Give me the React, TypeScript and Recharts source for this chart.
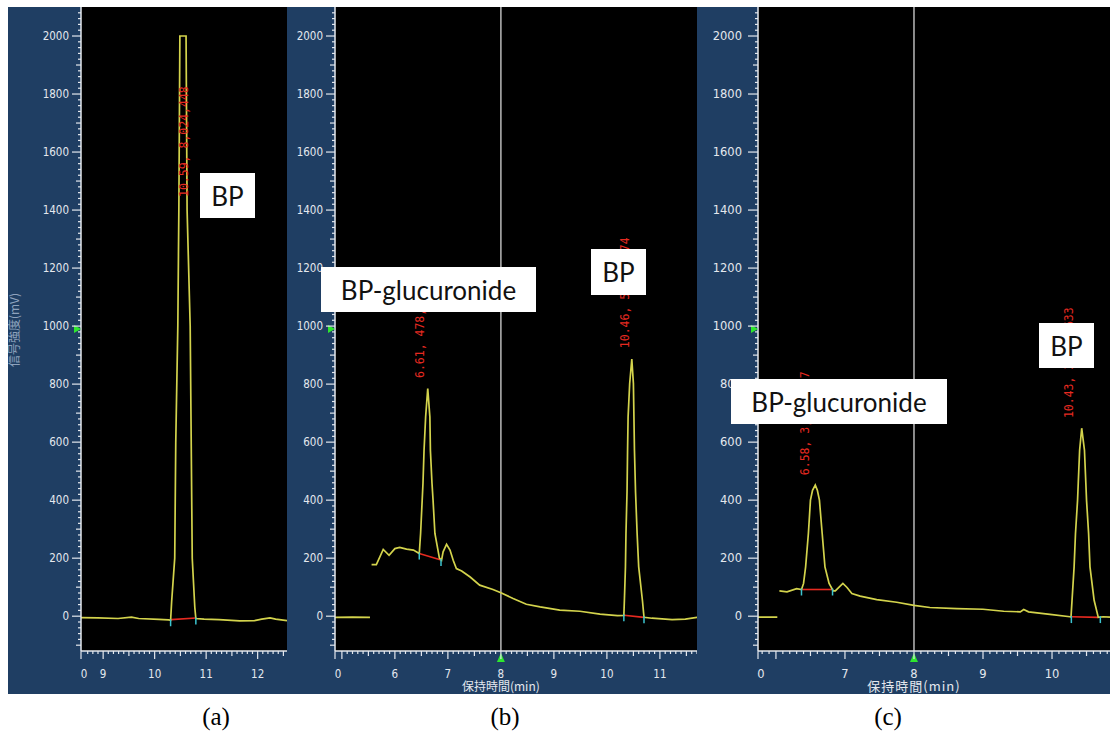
import { ComposedChart, Line, XAxis, YAxis, CartesianGrid, ReferenceLine, ReferenceDot } from 'recharts'

type Pt = [number, number | null]

const BLUE = '#1f3e63'
const AXIS = '#e4e8ee'
const TRACE = '#d3d34c'
const RED = '#e62a20'
const CYAN = '#3cc4cf'
const GREEN = '#2ee62e'

// signal axis (mV), shared by all three runs
const Y_DOMAIN: [number, number] = [-120, 2100]
const Y_TICKS = Array.from({ length: 110 }, (_, i) => -100 + i * 20)
const Y_MARK = 990
const CURSOR_MIN = 8

// retention time windows (min)
const X_DOMAIN_A: [number, number] = [8.57, 12.57]
const X_DOMAIN_B: [number, number] = [4.87, 11.7]
const X_DOMAIN_C: [number, number] = [5.74, 10.84]

// (a) BP standard
const TRACE_A: Pt[] = [
  [8.57, -5], [8.9, -6], [9.29, -8], [9.55, -3], [9.69, -8], [10.08, -11], [10.27, -13], [10.31, -14],
  [10.33, 50], [10.39, 200], [10.41, 600], [10.45, 1000], [10.47, 1400], [10.49, 2000], [10.61, 2000],
  [10.63, 1400], [10.69, 1000], [10.71, 600], [10.73, 200], [10.78, 30], [10.8, -8], [10.96, -10],
  [11.25, -12], [11.65, -16], [11.94, -15], [12.08, -10], [12.24, -6], [12.35, -10], [12.57, -15],
]
const BASES_A: Pt[][] = [[[10.32, -12], [10.8, -6]]]
const MARKS_A: Pt[] = [[10.31, -14], [10.8, -8]]
const PEAKS_A = [{ t: 10.57, v: 1445, text: '10.59, 8,024,448' }]

// (b) sample 1
const TRACE_B: Pt[] = [
  [4.87, -4], [5.2, -3], [5.53, -4], [5.545, null], [5.56, 178], [5.65, 178], [5.78, 230], [5.89, 210],
  [6.0, 233], [6.09, 237], [6.22, 231], [6.35, 228], [6.46, 216], [6.485, 285], [6.515, 400], [6.53, 458],
  [6.55, 572], [6.58, 687], [6.62, 785], [6.66, 687], [6.67, 572], [6.7, 458], [6.72, 400], [6.755, 285],
  [6.84, 200], [6.88, 193], [6.91, 222], [6.975, 248], [7.04, 228], [7.1, 193], [7.16, 164], [7.26, 156],
  [7.42, 135], [7.6, 107], [7.85, 92], [8.0, 81], [8.23, 61], [8.48, 41], [8.74, 32], [9.11, 21],
  [9.49, 17], [9.87, 7], [10.2, 2], [10.32, 3], [10.33, 55], [10.35, 170], [10.36, 286], [10.38, 430],
  [10.39, 572], [10.4, 687], [10.43, 802], [10.47, 886], [10.5, 802], [10.51, 687], [10.52, 572],
  [10.54, 430], [10.57, 286], [10.6, 170], [10.67, 55], [10.7, -4], [10.85, -7], [11.23, -12],
  [11.48, -10], [11.7, -4],
]
const BASES_B: Pt[][] = [[[6.46, 216], [6.87, 194]], [[10.32, 3], [10.7, -4]]]
const MARKS_B: Pt[] = [[6.46, 216], [6.87, 194], [10.32, 3], [10.7, -4]]
const PEAKS_B = [
  { t: 6.47, v: 821, text: '6.61, 478,952' },
  { t: 10.35, v: 924, text: '10.46, 5,312,874' },
]

// (c) sample 2
const TRACE_C: Pt[] = [
  [5.74, -3], [6.02, -3], [6.035, null], [6.05, 87], [6.16, 84], [6.3, 95], [6.37, 92], [6.4, 113],
  [6.43, 170], [6.47, 285], [6.5, 400], [6.53, 434], [6.57, 452], [6.6, 434], [6.63, 400], [6.67, 285],
  [6.71, 170], [6.77, 113], [6.83, 87], [6.86, 87], [6.97, 113], [7.03, 99], [7.1, 78], [7.22, 69],
  [7.46, 57], [7.75, 48], [8.0, 37], [8.23, 30], [8.62, 26], [9.0, 24], [9.3, 17], [9.54, 15], [9.59, 23],
  [9.66, 15], [9.97, 6], [10.26, -2], [10.275, -3], [10.29, 55], [10.32, 170], [10.34, 285], [10.37, 400],
  [10.38, 458], [10.4, 572], [10.43, 648], [10.47, 572], [10.49, 458], [10.5, 400], [10.53, 285],
  [10.55, 170], [10.61, 55], [10.67, -4], [10.74, -2], [10.84, -3],
]
const BASES_C: Pt[][] = [[[6.38, 92], [6.82, 92]], [[10.29, -2], [10.67, -4]]]
const MARKS_C: Pt[] = [[6.37, 92], [6.82, 92], [10.28, -3], [10.7, -3]]
const PEAKS_C = [
  { t: 6.42, v: 486, text: '6.58, 3,142,807' },
  { t: 10.25, v: 683, text: '10.43, 3,716,633' },
]

const NOTES = [
  { left: 200, top: 173, w: 55, h: 45, text: 'BP' },
  { left: 321, top: 267, w: 215, h: 45, text: 'BP-glucuronide' },
  { left: 591, top: 249, w: 55, h: 46, text: 'BP' },
  { left: 731, top: 379, w: 216, h: 45, text: 'BP-glucuronide' },
  { left: 1039, top: 323, w: 55, h: 45, text: 'BP' },
]
const CAPTIONS = [{ x: 216, text: '(a)' }, { x: 505, text: '(b)' }, { x: 888, text: '(c)' }]

const rows = (pts: Pt[]) => pts.map(([t, v]) => ({ t, v }))

function minuteTicks([lo, hi]: [number, number]) {
  const out = [lo]
  for (let n = Math.ceil(lo * 10); n <= Math.floor(hi * 10); n++) {
    if (n / 10 - lo > 0.04) out.push(n / 10)
  }
  return out
}

function XTick(props: any) {
  const { x, y, payload, lo, font } = props
  const v = payload.value
  const n = Math.round(v * 10)
  const atMin = Math.abs(v - lo) < 1e-6
  const whole = atMin || n % 10 === 0
  const len = whole ? 8 : n % 5 === 0 ? 5 : 3
  const label = atMin ? '0' : whole && v - lo > 0.3 ? String(n / 10) : null
  return (
    <g>
      <line x1={x} x2={x} y1={y} y2={y + len} stroke={AXIS} strokeWidth={1.2} />
      {label && (
        <text x={atMin ? x + 3 : x} y={y + 27} textAnchor="middle" fill={AXIS} fontFamily={font} fontSize={11.5}>
          {label}
        </text>
      )}
    </g>
  )
}

function YTick(props: any) {
  const { x, y, payload, gap, major, font } = props
  const v = payload.value
  const len = v % 200 === 0 ? major : v % 100 === 0 ? 5 : 3
  return (
    <g>
      <line x1={x - len} x2={x} y1={y} y2={y} stroke={AXIS} strokeWidth={1.2} />
      {v % 200 === 0 && v >= 0 && (
        <text x={x - gap} y={y} dy={4} textAnchor="end" fill={AXIS} fontFamily={font} fontSize={11.5}>
          {v}
        </text>
      )}
    </g>
  )
}

function CursorMark(props: any) {
  const { viewBox, size, spacing } = props
  const { x, y, height } = viewBox
  const b = y + height
  return (
    <g>
      <polygon points={`${x},${b + 2} ${x - 4},${b + 11} ${x + 4},${b + 11}`} fill={GREEN} />
      <text x={x} y={b + 40} textAnchor="middle" fill={AXIS} fontFamily="Noto Sans CJK JP" fontSize={size} letterSpacing={spacing}>
        保持時間(min)
      </text>
    </g>
  )
}

function Panel(props: any) {
  const { left, width, axisW, domain, trace, bases, marks, peaks, cursor, font, yGap, yMajor, titleSize, titleSpacing } = props
  return (
    <div style={{ position: 'absolute', left, top: 7, width, height: 687, background: BLUE, overflow: 'hidden' }}>
      <ComposedChart width={width} height={687} margin={{ top: 0, right: 0, bottom: 0, left: 0 }}>
        <CartesianGrid horizontal={false} vertical={false} fill="#000" fillOpacity={1} stroke="none" />
        <XAxis
          type="number"
          dataKey="t"
          domain={domain}
          allowDataOverflow
          ticks={minuteTicks(domain)}
          interval={0}
          height={43}
          tickSize={0}
          tickMargin={0}
          tickLine={false}
          tick={<XTick lo={domain[0]} font={font} />}
          axisLine={{ stroke: AXIS, strokeWidth: 1.5 }}
        />
        <YAxis
          type="number"
          domain={Y_DOMAIN}
          allowDataOverflow
          ticks={Y_TICKS}
          interval={0}
          width={axisW}
          tickSize={0}
          tickMargin={0}
          tickLine={false}
          tick={<YTick gap={yGap} major={yMajor} font={font} />}
          axisLine={{ stroke: AXIS, strokeWidth: 1.5 }}
        />
        {cursor && (
          <ReferenceLine
            x={CURSOR_MIN}
            stroke="#b9b9b9"
            strokeWidth={1.5}
            label={<CursorMark size={titleSize} spacing={titleSpacing} />}
          />
        )}
        {bases.map((b: Pt[], i: number) => (
          <Line key={'b' + i} data={rows(b)} dataKey="v" type="linear" stroke={RED} strokeWidth={1.6} dot={false} isAnimationActive={false} />
        ))}
        <Line data={rows(trace)} dataKey="v" type="linear" stroke={TRACE} strokeWidth={1.7} dot={false} isAnimationActive={false} />
        {marks.map((m: Pt, i: number) => (
          <ReferenceDot
            key={'m' + i}
            x={m[0]}
            y={m[1] as number}
            r={1}
            ifOverflow="visible"
            shape={(p: any) => <line x1={p.cx} x2={p.cx} y1={p.cy - 1} y2={p.cy + 6} stroke={CYAN} strokeWidth={1.5} />}
          />
        ))}
        {peaks.map((pk: any, i: number) => (
          <ReferenceDot
            key={'p' + i}
            x={pk.t}
            y={pk.v}
            r={1}
            ifOverflow="visible"
            shape={(p: any) => (
              <text
                x={p.cx}
                y={p.cy}
                dy={4}
                transform={`rotate(-90 ${p.cx} ${p.cy})`}
                fill={RED}
                fontFamily="DejaVu Sans Mono"
                fontSize={11.5}
              >
                {pk.text}
              </text>
            )}
          />
        ))}
        <ReferenceDot
          x={domain[0]}
          y={Y_MARK}
          r={1}
          ifOverflow="visible"
          shape={(p: any) => <polygon points={`${p.cx - 7},${p.cy - 4} ${p.cx - 7},${p.cy + 4} ${p.cx},${p.cy}`} fill={GREEN} />}
        />
      </ComposedChart>
      {props.yLabel && (
        <div
          style={{
            position: 'absolute',
            left: 5,
            top: 323,
            transform: 'translate(-50%, -50%) rotate(-90deg)',
            whiteSpace: 'nowrap',
            color: '#8ea2bd',
            fontFamily: 'Noto Sans CJK JP',
            fontSize: 12,
          }}
        >
          {props.yLabel}
        </div>
      )}
    </div>
  )
}

export default function App() {
  return (
    <div style={{ position: 'absolute', left: 0, top: 0, width: 1110, height: 735, background: '#fff', overflow: 'hidden' }}>
      <Panel
        left={8} width={279} axisW={73} domain={X_DOMAIN_A}
        trace={TRACE_A} bases={BASES_A} marks={MARKS_A} peaks={PEAKS_A}
        cursor={false} font="DejaVu Sans Condensed" yGap={12} yMajor={9}
        yLabel="信号強度(mV)"
      />
      <Panel
        left={287} width={410} axisW={48} domain={X_DOMAIN_B}
        trace={TRACE_B} bases={BASES_B} marks={MARKS_B} peaks={PEAKS_B}
        cursor font="DejaVu Sans Condensed" yGap={12} yMajor={9} titleSize={12} titleSpacing={0}
      />
      <Panel
        left={697} width={413} axisW={61} domain={X_DOMAIN_C}
        trace={TRACE_C} bases={BASES_C} marks={MARKS_C} peaks={PEAKS_C}
        cursor font="DejaVu Sans" yGap={16} yMajor={10} titleSize={13} titleSpacing={1}
      />
      {NOTES.map((n, i) => (
        <div
          key={i}
          style={{
            position: 'absolute', left: n.left, top: n.top, width: n.w, height: n.h, background: '#fff',
            display: 'flex', alignItems: 'center', justifyContent: 'center',
            fontFamily: 'Lato, "Open Sans", sans-serif', fontSize: 26, color: '#111',
          }}
        >
          {n.text}
        </div>
      ))}
      {CAPTIONS.map((c, i) => (
        <div
          key={i}
          style={{
            position: 'absolute', left: c.x - 40, top: 702, width: 80, textAlign: 'center',
            fontFamily: '"Liberation Serif", serif', fontSize: 25, color: '#000', lineHeight: '30px',
          }}
        >
          {c.text}
        </div>
      ))}
    </div>
  )
}
